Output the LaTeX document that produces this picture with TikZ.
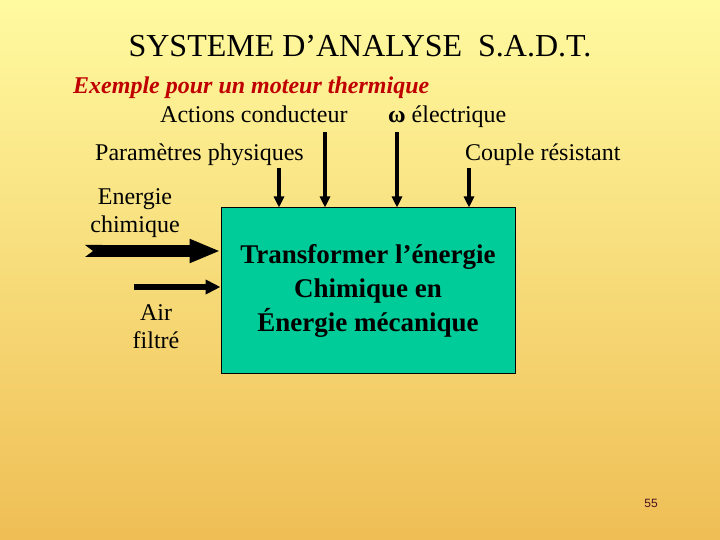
\documentclass[tikz,border=0pt]{standalone}
\usepackage{fontspec}
\setmainfont{Liberation Serif}
\setsansfont{Liberation Sans}
\usetikzlibrary{arrows.meta, positioning}
\definecolor{slideTop}{HTML}{FFFAA0}
\definecolor{slideBot}{HTML}{EFBE55}
\definecolor{boxTeal}{HTML}{00CC99}
\definecolor{titleRed}{HTML}{C00000}
\definecolor{pageNum}{HTML}{4A1020}
\tikzset{
  arrowV/.style={-{Triangle[length=11bp,width=10bp]}, line width=3.8bp},
  arrowFat/.style={{Triangle Cap[reversed,length=8bp]}-{Triangle[length=31bp,width=22bp]},
                   line width=12bp},
  arrowAir/.style={-{Triangle[length=15bp,width=14bp]}, line width=6bp},
  lbl/.style={font=\fontsize{24bp}{28bp}\selectfont, inner sep=0pt, align=center},
  boxFn/.style={rectangle, draw=black, line width=1bp, fill=boxTeal,
                minimum width=294bp, minimum height=165bp, align=center,
                font=\fontsize{27bp}{34bp}\selectfont\bfseries},
}
\begin{document}
\begin{tikzpicture}[x=1bp, y=-1bp]
  \shade[top color=slideTop, bottom color=slideBot] (0,0) rectangle (720,540);
  \useasboundingbox (0,0) rectangle (720,540);

  \node[lbl, anchor=base, font=\fontsize{32bp}{34bp}\selectfont] (title) at (360,57)
    {SYSTEME D’ANALYSE \ S.A.D.T.};
  \node[lbl, anchor=base west, text=titleRed, font=\fontsize{24bp}{28bp}\selectfont\bfseries\itshape]
    (ex) at (73,94) {Exemple pour un moteur thermique};

  \node[boxFn] (fn) at (368,290.5)
    {Transformer l’énergie\\Chimique en\\Énergie mécanique};

  \node[lbl, anchor=base west] (act) at (160,123) {Actions conducteur};
  \node[lbl, anchor=base west] (omg) at (388,123) {{\bfseries ω} électrique};
  \node[lbl, anchor=base west] (par) at (95,161) {Paramètres physiques};
  \node[lbl, anchor=base west] (cpl) at (465,161) {Couple résistant};
  \node[lbl, anchor=base] (ener) at (135,233) {Energie\\chimique};
  \node[lbl, anchor=base] (air) at (156,348) {Air\\filtré};

  \coordinate (parIn) at (279,168);
  \coordinate (actIn) at (325,132);
  \coordinate (omgIn) at (397,132);
  \coordinate (cplIn) at (469,168);
  \coordinate (enerIn) at (85,251);
  \coordinate (airIn) at (134,287);

  \draw[arrowV] (parIn) -- (parIn |- fn.north);
  \draw[arrowV] (actIn) -- (actIn |- fn.north);
  \draw[arrowV] (omgIn) -- (omgIn |- fn.north);
  \draw[arrowV] (cplIn) -- (cplIn |- fn.north);
  \draw[arrowFat] (enerIn) -- (enerIn -| fn.west);
  \draw[arrowAir] (airIn) -- (airIn -| fn.west);

  \node[text=pageNum, font=\sffamily\fontsize{12bp}{14bp}\selectfont] (page) at (651,503) {55};
\end{tikzpicture}
\end{document}
